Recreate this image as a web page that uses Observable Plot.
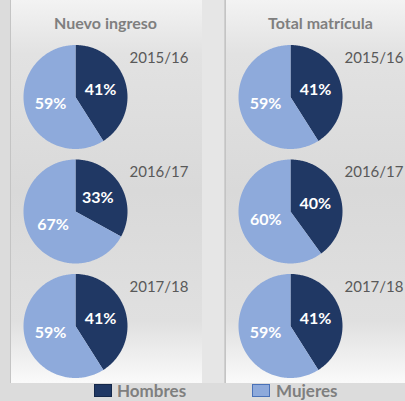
<!DOCTYPE html>
<html><head><meta charset="utf-8">
<script src="https://cdn.jsdelivr.net/npm/d3@7"></script>
<script src="https://cdn.jsdelivr.net/npm/@observablehq/plot@0.6"></script>
<style>
html,body{margin:0;padding:0;overflow:hidden;background:#dcdcdc;}
#wrap{position:relative;width:405px;height:401px;font-family:Lato,"Open Sans",sans-serif;background:#dcdcdc;}
.panel{position:absolute;top:0;height:383px;box-sizing:border-box;border-left:1px solid #c4c4c4;
  background:linear-gradient(to bottom,#f3f3f3 0%,#e2e2e2 14%,#d9d9d9 50%,#e0e0e0 84%,#fafafa 100%);}
#gap{position:absolute;left:202px;top:0;width:23px;height:383px;background:#e6e6e6;border-right:1px solid #cfcfcf;box-sizing:border-box;}
#chart{position:absolute;left:0;top:0;}
.sw{position:absolute;top:384px;width:18px;height:13px;box-sizing:border-box;}
.lt{position:absolute;top:381px;font-weight:bold;font-size:17px;color:#7f7f7f;line-height:20px;}
</style></head>
<body><div id="wrap">
<div class="panel" style="left:10px;width:192px"></div>
<div id="gap"></div>
<div class="panel" style="left:225px;width:180px"></div>
<div id="chart"></div>
<div id="legend"></div>
</div>
<script>
const columns = ["Nuevo ingreso", "Total matrícula"];
const years = ["2015/16", "2016/17", "2017/18"];
const sexes = ["Hombres", "Mujeres"];
const hombresNuevo = [41, 33, 41];
const mujeresNuevo = [59, 67, 59];
const hombresTotal = [41, 40, 41];
const mujeresTotal = [59, 60, 59];
const colors = ["#203864", "#8eaadb"];
const borders = ["#15284a", "#4a72b8"];

const series = {
  "Nuevo ingreso": [hombresNuevo, mujeresNuevo],
  "Total matrícula": [hombresTotal, mujeresTotal]
};

const R = 52;
const slices = [];
columns.forEach(col => years.forEach((year, i) => {
  const vals = series[col].map(s => s[i]);
  const total = d3.sum(vals);
  let start = 0;
  sexes.forEach((sex, j) => {
    const v = vals[j];
    slices.push({col, year, sex, value: v, a0: start / total * 2 * Math.PI, a1: (start + v) / total * 2 * Math.PI});
    start += v;
  });
}));

const outline = [];
slices.forEach(s => {
  outline.push({...s, px: 0, py: 0});
  const n = Math.max(2, Math.ceil((s.a1 - s.a0) / (Math.PI / 180)));
  for (let k = 0; k <= n; k++) {
    const a = s.a0 + (s.a1 - s.a0) * k / n;
    outline.push({...s, px: R * Math.sin(a), py: R * Math.cos(a)});
  }
});
const labels = slices.map(s => {
  const m = (s.a0 + s.a1) / 2;
  return {...s, px: 0.5 * R * Math.sin(m), py: 0.5 * R * Math.cos(m)};
});
const yearCells = columns.flatMap(col => years.map(year => ({col, year})));

const plot = Plot.plot({
  width: 405, height: 383,
  marginLeft: 10, marginRight: 0, marginTop: 42, marginBottom: 3,
  style: {background: "transparent", overflow: "visible", fontFamily: "Lato, 'Open Sans', sans-serif"},
  fx: {domain: columns, paddingInner: 0.1628, paddingOuter: 0, round: false, axis: null},
  fy: {domain: years, paddingInner: 0.048, paddingOuter: 0, round: false, axis: null},
  x: {domain: [-65, 115], axis: null},
  y: {domain: [-54.5, 54.5], axis: null},
  color: {domain: sexes, range: colors},
  marks: [
    Plot.line(outline, {fx: "col", fy: "year", x: "px", y: "py", z: "sex", fill: "sex", stroke: "none", curve: "linear"}),
    Plot.text(labels, {fx: "col", fy: "year", x: "px", y: "py", text: d => d.value + "%", fill: "white", fontWeight: "bold", fontSize: 16}),
    Plot.text(yearCells, {fx: "col", fy: "year", x: () => 54, y: () => 39, text: "year", textAnchor: "start", fill: "#595959", fontSize: 15}),
    Plot.text(columns, {fx: d => d, fy: () => years[0], frameAnchor: "top", dy: -19, dx: 5, lineAnchor: "middle", text: d => d, fontWeight: "bold", fontSize: 16, fill: "#7f7f7f"})
  ]
});
document.getElementById("chart").appendChild(plot);

const legend = document.getElementById("legend");
const legendPos = [[94, 117], [252, 276]];
sexes.forEach((sex, i) => {
  const sw = document.createElement("div");
  sw.className = "sw";
  sw.style.left = legendPos[i][0] + "px";
  sw.style.background = colors[i];
  sw.style.border = "1.5px solid " + borders[i];
  legend.appendChild(sw);
  const t = document.createElement("div");
  t.className = "lt";
  t.style.left = legendPos[i][1] + "px";
  t.textContent = sex;
  legend.appendChild(t);
});
</script>
</body></html>
